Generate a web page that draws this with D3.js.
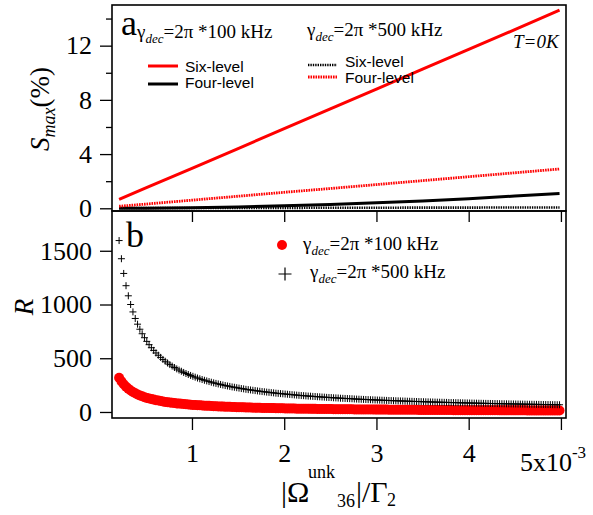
<!DOCTYPE html>
<html>
<head>
<meta charset="utf-8">
<script src="https://cdn.jsdelivr.net/npm/d3@7"></script>
<style>
  html, body { margin: 0; padding: 0; background: #fff; }
  svg { display: block; }
</style>
</head>
<body>
<svg id="chart" width="593" height="515"></svg>
<script>
// ---------------- DATA ----------------
// Panel (a): S_max (%) vs |Omega_36^unk|/Gamma_2 (x10^-3)
const aOmega = [0.21, 0.5, 1, 1.5, 2, 2.5, 3, 3.5, 4, 4.5, 4.985];
const sixLevel100 = [0.65, 1.5, 2.95, 4.41, 5.87, 7.34, 8.8, 10.26, 11.72, 13.18, 14.62];
const fourLevel100 = [0.0, 0.01, 0.04, 0.10, 0.18, 0.28, 0.40, 0.54, 0.71, 0.90, 1.10];
const sixLevel500 = [0.02, 0.02, 0.02, 0.03, 0.03, 0.04, 0.04, 0.05, 0.05, 0.06, 0.06];
const fourLevel500 = [0.15, 0.31, 0.60, 0.89, 1.18, 1.46, 1.75, 2.04, 2.33, 2.62, 2.90];
const aYTicks = [0, 4, 8, 12];
const aYMinor = [2, 6, 10, 14];

// Panel (b): R vs |Omega_36^unk|/Gamma_2 (x10^-3)
const bOmega = [
  0.21,0.235,0.26,0.285,0.31,0.335,0.36,0.385,0.41,0.435,0.46,0.485,0.51,0.535,0.56,0.585,
  0.61,0.635,0.66,0.685,0.71,0.735,0.76,0.785,0.81,0.835,0.86,0.885,0.91,0.935,0.96,0.985,
  1.01,1.035,1.06,1.085,1.11,1.135,1.16,1.185,1.21,1.235,1.26,1.285,1.31,1.335,1.36,1.385,1.41,1.435,
  1.46,1.485,1.51,1.535,1.56,1.585,1.61,1.635,1.66,1.685,1.71,1.735,1.76,1.785,1.81,1.835,1.86,1.885,1.91,1.935,1.96,1.985,
  2.01,2.035,2.06,2.085,2.11,2.135,2.16,2.185,2.21,2.235,2.26,2.285,2.31,2.335,2.36,2.385,2.41,2.435,
  2.46,2.485,2.51,2.535,2.56,2.585,2.61,2.635,2.66,2.685,2.71,2.735,2.76,2.785,2.81,2.835,2.86,2.885,2.91,2.935,2.96,2.985,
  3.01,3.035,3.06,3.085,3.11,3.135,3.16,3.185,3.21,3.235,3.26,3.285,3.31,3.335,3.36,3.385,3.41,3.435,
  3.46,3.485,3.51,3.535,3.56,3.585,3.61,3.635,3.66,3.685,3.71,3.735,3.76,3.785,3.81,3.835,3.86,3.885,3.91,3.935,3.96,3.985,
  4.01,4.035,4.06,4.085,4.11,4.135,4.16,4.185,4.21,4.235,4.26,4.285,4.31,4.335,4.36,4.385,4.41,4.435,
  4.46,4.485,4.51,4.535,4.56,4.585,4.61,4.635,4.66,4.685,4.71,4.735,4.76,4.785,4.81,4.835,4.86,4.885,4.91,4.935,4.96,4.985
];
const r500 = [
  1595,1426,1289,1175,1081,1000,931,870,817,770,728,691,657,626,598,573,
  549,528,508,489,472,456,441,427,414,401,390,379,368,358,349,340,
  332,324,316,309,302,295,289,283,277,271,266,261,256,251,246,242,238,233,
  230,226,222,218,215,211,208,205,202,199,196,193,190,188,185,183,180,178,175,173,171,169,
  167,165,163,161,159,157,155,153,152,150,148,147,145,144,142,141,139,138,
  136,135,134,132,131,130,128,127,126,125,124,123,121,120,119,118,117,116,115,114,113,112,
  111.3,110.4,109.5,108.6,107.7,106.9,106.0,105.2,104.4,103.6,102.8,102.0,101.2,100.4,99.7,99.0,98.2,97.5,
  96.8,96.1,95.4,94.8,94.1,93.4,92.8,92.2,91.5,90.9,90.3,89.7,89.1,88.5,87.9,87.4,86.8,86.2,85.7,85.1,84.6,84.1,
  83.5,83.0,82.5,82.0,81.5,81.0,80.5,80.0,79.6,79.1,78.6,78.2,77.7,77.3,76.8,76.4,76.0,75.5,
  75.1,74.7,74.3,73.9,73.5,73.1,72.7,72.3,71.9,71.5,71.1,70.8,70.4,70.0,69.6,69.3,68.9,68.6,68.2,67.9,67.5,67.2
];
const r100 = [
  319,285,258,235,216,200,186,174,163,154,146,138,131,125,120,115,
  110,106,102,98,94,91,88,85,83,80,78,76,74,72,70,68,
  66,65,63,62,60,59,58,57,55,54,53,52,51,50,49,48,48,47,
  46,45,44,44,43,42,42,41,40,40,39,39,38,38,37,37,36,36,35,35,34,34,
  33,33,33,32,32,31,31,31,30,30,30,29,29,29,28,28,28,28,
  27,27,27,26,26,26,26,25,25,25,25,25,24,24,24,24,23,23,23,23,23,22,
  22,22,22,22,22,21,21,21,21,21,21,20,20,20,20,20,20,20,
  19,19,19,19,19,19,19,18,18,18,18,18,18,18,18,17,17,17,17,17,17,17,
  17,17,16,16,16,16,16,16,16,16,16,16,16,15,15,15,15,15,
  15,15,15,15,15,15,15,14,14,14,14,14,14,14,14,14,14,14,14,14,14,13
];
const bYTicks = [0, 500, 1000, 1500];
const xTicks = [1, 2, 3, 4, 5];
const xTickLabels = ["1", "2", "3", "4", ""];

// ---------------- DRAW ----------------
const SERIF = '"Liberation Serif"';
const SANS = '"Liberation Sans"';
const svg = d3.select("#chart");
const RED = "#ff0000";
const L = 112, R = 566;
const aTop = 5, aBot = 211, bTop = 211, bBot = 418;

const x = d3.scaleLinear().domain([0.133, 5.055]).range([L, R]);
const ya = d3.scaleLinear().domain([-0.2, 15]).range([aBot, aTop]);
const yb = d3.scaleLinear().domain([-56, 1870]).range([bBot, bTop]);

function serifText(parent, size) {
  return parent.append("text").style("font-family", SERIF).attr("font-size", size).attr("fill", "#000");
}

function styleAxis(g) {
  g.attr("font-family", null).attr("font-size", null);
  g.select(".domain").remove();
  g.selectAll(".tick line").attr("stroke", "#000").attr("stroke-width", 1.3);
  g.selectAll(".tick text").style("font-family", SERIF).attr("font-size", 26).attr("fill", "#000");
}

// Panel a axes
svg.append("g").attr("transform", `translate(${L},0)`)
  .call(d3.axisLeft(ya).tickValues(aYTicks).tickSize(12).tickPadding(8).tickFormat(d3.format("d")))
  .call(styleAxis);
svg.append("g").attr("transform", `translate(${L},0)`)
  .call(d3.axisLeft(ya).tickValues(aYMinor).tickSize(6).tickFormat(""))
  .call(styleAxis);

// Panel b axes
svg.append("g").attr("transform", `translate(${L},0)`)
  .call(d3.axisLeft(yb).tickValues(bYTicks).tickSize(12).tickPadding(8).tickFormat(d3.format("d")))
  .call(styleAxis);
svg.append("g").attr("transform", `translate(0,${bTop})`)
  .call(d3.axisBottom(x).tickValues(xTicks).tickSize(11).tickFormat(""))
  .call(styleAxis);
const xb = svg.append("g").attr("transform", `translate(0,${bBot})`)
  .call(d3.axisBottom(x).tickValues(xTicks).tickSize(12).tickPadding(6).tickFormat((d, i) => xTickLabels[i]))
  .call(styleAxis);
xb.selectAll(".tick text").attr("dy", "0").attr("y", 44);

// "5x10^-3" label
const lastLab = serifText(svg, 26).attr("x", x(5) - 41).attr("y", 471);
lastLab.append("tspan").text("5x10");
lastLab.append("tspan").attr("font-size", 17).attr("dy", -13).text("-3");

// Frames
svg.append("rect").attr("x", L).attr("y", aTop).attr("width", R - L).attr("height", aBot - aTop)
  .attr("fill", "none").attr("stroke", "#000").attr("stroke-width", 1.6);
svg.append("rect").attr("x", L).attr("y", bTop).attr("width", R - L).attr("height", bBot - bTop)
  .attr("fill", "none").attr("stroke", "#000").attr("stroke-width", 1.6);

// Panel a lines
svg.append("clipPath").attr("id", "clipA").append("rect")
  .attr("x", L).attr("y", aTop).attr("width", R - L).attr("height", aBot - aTop);
const gA = svg.append("g").attr("clip-path", "url(#clipA)");
const lineA = (vals) => d3.line().x((d, i) => x(aOmega[i])).y((d) => ya(d))(vals);
gA.append("path").attr("d", lineA(sixLevel500)).attr("fill", "none")
  .attr("stroke", "#000").attr("stroke-width", 2.6).attr("stroke-dasharray", "1.4,1");
gA.append("path").attr("d", lineA(fourLevel100)).attr("fill", "none")
  .attr("stroke", "#000").attr("stroke-width", 3);
gA.append("path").attr("d", lineA(fourLevel500)).attr("fill", "none")
  .attr("stroke", RED).attr("stroke-width", 2.8).attr("stroke-dasharray", "1.6,0.9");
gA.append("path").attr("d", lineA(sixLevel100)).attr("fill", "none")
  .attr("stroke", RED).attr("stroke-width", 3);

// Panel b markers
const gB = svg.append("g");
gB.selectAll("circle.r100").data(r100).enter().append("circle")
  .attr("cx", (d, i) => x(bOmega[i])).attr("cy", (d) => yb(d)).attr("r", 5).attr("fill", RED);
gB.selectAll("path.r500").data(r500).enter().append("path")
  .attr("transform", (d, i) => `translate(${x(bOmega[i])},${yb(d)})`)
  .attr("d", "M-3.5,0H3.5M0,-3.5V3.5").attr("stroke", "#000").attr("stroke-width", 1).attr("fill", "none");

// ---------- Panel a annotations ----------
serifText(svg, 36).attr("x", 121).attr("y", 35).text("a");
function gammaLabel(xp, yp, val) {
  const t = serifText(svg, 19).attr("x", xp).attr("y", yp);
  t.append("tspan").text("γ");
  t.append("tspan").attr("font-size", 13).attr("font-style", "italic").attr("dy", 5).text("dec");
  t.append("tspan").attr("dy", -5).text("=2π *" + val + " kHz");
}
gammaLabel(137, 38, "100");
gammaLabel(307, 36, "500");
serifText(svg, 19).attr("font-style", "italic").attr("x", 513).attr("y", 48).text("T=0K");

// legend left
svg.append("line").attr("x1", 148).attr("x2", 178).attr("y1", 66).attr("y2", 66)
  .attr("stroke", RED).attr("stroke-width", 3);
svg.append("line").attr("x1", 148).attr("x2", 178).attr("y1", 84).attr("y2", 84)
  .attr("stroke", "#000").attr("stroke-width", 3);
svg.append("text").style("font-family", SANS).attr("font-size", 15.5).attr("x", 185).attr("y", 72).text("Six-level");
svg.append("text").style("font-family", SANS).attr("font-size", 15.5).attr("x", 185).attr("y", 88).text("Four-level");
// legend right
svg.append("line").attr("x1", 308).attr("x2", 337).attr("y1", 65).attr("y2", 65)
  .attr("stroke", "#000").attr("stroke-width", 2.6).attr("stroke-dasharray", "1.4,1");
svg.append("line").attr("x1", 308).attr("x2", 337).attr("y1", 77).attr("y2", 77)
  .attr("stroke", RED).attr("stroke-width", 2.8).attr("stroke-dasharray", "1.6,0.9");
svg.append("text").style("font-family", SANS).attr("font-size", 15.5).attr("x", 345).attr("y", 67).text("Six-level");
svg.append("text").style("font-family", SANS).attr("font-size", 15.5).attr("x", 345).attr("y", 83).text("Four-level");

// ---------- Panel b annotations ----------
serifText(svg, 36).attr("x", 126).attr("y", 247).text("b");
svg.append("circle").attr("cx", 282).attr("cy", 245).attr("r", 5).attr("fill", RED);
gammaLabel(303, 250, "100");
svg.append("path").attr("transform", "translate(285,274)").attr("d", "M-6.5,0H6.5M0,-6.5V6.5")
  .attr("stroke", "#000").attr("stroke-width", 1.2);
gammaLabel(310, 278, "500");

// ---------- Axis titles ----------
const ta = serifText(svg, 27).attr("text-anchor", "middle").attr("transform", "translate(49,109) rotate(-90)");
ta.append("tspan").attr("font-style", "italic").text("S");
ta.append("tspan").attr("font-style", "italic").attr("font-size", 18).attr("dy", 6).text("max");
ta.append("tspan").attr("dy", -6).text("(%)");

serifText(svg, 27).attr("font-style", "italic").attr("text-anchor", "middle")
  .attr("transform", "translate(33,307) rotate(-90)").text("R");

// x axis title: |Ω^unk_36|/Γ_2
serifText(svg, 30).attr("x", 281).attr("y", 502).text("|Ω");
serifText(svg, 18).attr("x", 308).attr("y", 478).text("unk");
serifText(svg, 18).attr("x", 337).attr("y", 507).text("36");
serifText(svg, 30).attr("x", 356).attr("y", 502).text("|/Γ");
serifText(svg, 18).attr("x", 387).attr("y", 506).text("2");
</script>
</body>
</html>
